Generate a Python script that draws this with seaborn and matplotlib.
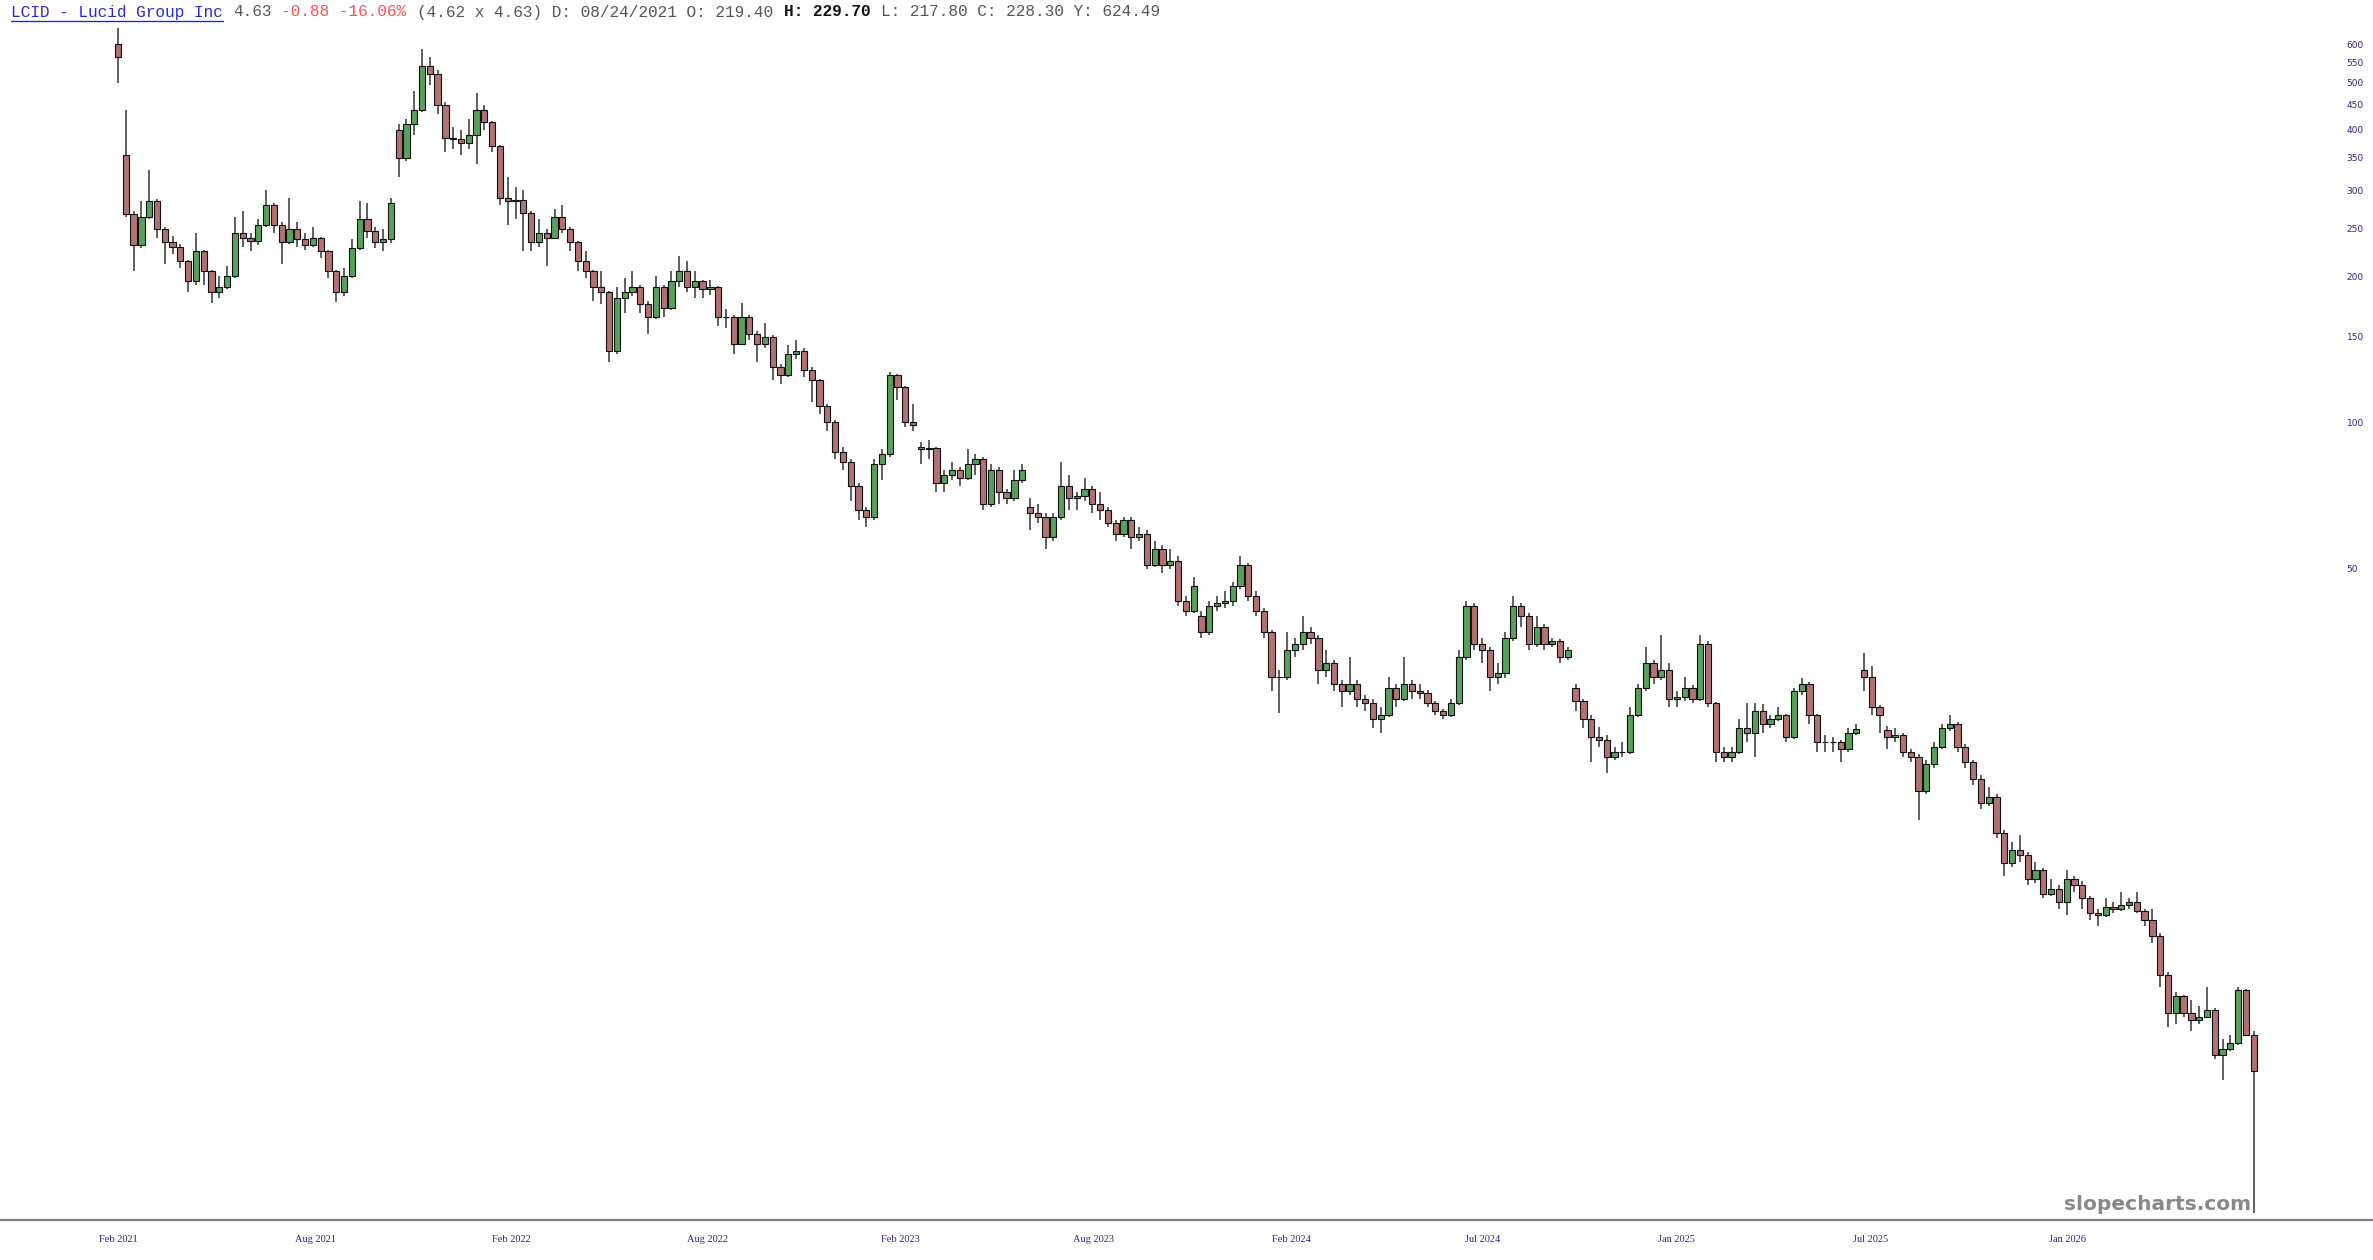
import numpy as np
import pandas as pd
import seaborn as sns
import matplotlib.pyplot as plt
from matplotlib.lines import Line2D
from matplotlib.ticker import NullLocator, NullFormatter

# Weekly OHLC (split-adjusted prices), one value per week
opens = [
    600, 355, 268, 232, 265, 285, 250, 235, 230, 215,
    195, 225, 205, 185, 190, 200, 245, 240, 236, 255,
    280, 255, 235, 250, 238, 232, 240, 225, 205, 185,
    200, 228, 262, 248, 235, 238, 400, 350, 410, 440,
    540, 520, 450, 385, 383, 375, 390, 440, 415, 370,
    290, 285, 287, 270, 235, 245, 240, 265, 250, 235,
    215, 205, 190, 185, 140, 180, 185, 190, 175, 165,
    190, 172, 195, 205, 190, 195, 188, 190, 165, 165,
    145, 165, 152, 145, 150, 130, 125, 138, 140, 128,
    122, 108, 100, 87, 83, 74, 66, 64, 82, 86,
    125, 118, 100, 89, 88, 88.5, 75, 78, 80, 77,
    82, 84, 68, 80, 72, 70, 76, 67, 65, 64,
    58, 64, 74, 70, 70.5, 73, 68, 66, 62, 59,
    63, 58, 59, 51, 55, 51, 52, 43, 41, 40,
    37, 42, 42.5, 43, 46, 51, 44, 41, 37, 30,
    30, 34, 35, 37, 36, 31, 32, 29, 28, 29,
    27, 26.5, 24.5, 25, 28.5, 27, 29, 28, 27.8, 26.5,
    25.5, 25, 26.5, 33, 42, 35, 34, 30, 30.5, 36,
    42, 40, 35, 38, 35, 35.5, 33, 28.5, 26.8, 24.5,
    22.5, 22.2, 20.5, 21, 21, 25, 28.5, 32, 30, 31,
    27, 27.3, 28.5, 27, 35, 26.5, 21, 20.5, 21, 23.5,
    23, 25.5, 24, 24.5, 25, 22.5, 28, 29, 25, 22,
    22, 22, 21.3, 23, 31, 30, 26, 23.3, 22.5, 22.8,
    21, 20.5, 17.5, 19.8, 21.5, 23.5, 24, 21.5, 20, 18.5,
    16.5, 17, 14.3, 12.4, 13.2, 12.9, 11.5, 12, 10.7, 11,
    10.3, 11.5, 11.2, 10.5, 9.8, 9.7, 10.1, 10, 10.2, 10.3,
    9.9, 9.5, 8.8, 7.3, 6.1, 6.6, 6.1, 5.9, 6.0, 6.2,
    5.0, 5.15, 5.3, 6.8, 5.51,
]
closes = [
    565, 268, 232, 265, 285, 250, 235, 230, 215, 195,
    225, 205, 185, 190, 200, 245, 240, 236, 255, 280,
    255, 235, 250, 238, 232, 240, 225, 205, 185, 200,
    228, 262, 248, 235, 238, 282, 350, 410, 440, 540,
    520, 450, 385, 383, 375, 390, 440, 415, 370, 290,
    285, 287, 270, 235, 245, 240, 265, 250, 235, 215,
    205, 190, 185, 140, 180, 185, 190, 175, 165, 190,
    172, 195, 205, 190, 195, 188, 190, 165, 165, 145,
    165, 152, 145, 150, 130, 125, 138, 140, 128, 122,
    108, 100, 87, 83, 74, 66, 64, 82, 86, 125,
    118, 100, 99, 88, 88.5, 75, 78, 80, 77, 82,
    84, 68, 80, 72, 70, 76, 80, 65, 64, 58,
    64, 74, 70, 70.5, 73, 68, 66, 62, 59, 63,
    58, 59, 51, 55, 51, 52, 43, 41, 46, 37,
    42, 42.5, 43, 46, 51, 44, 41, 37, 30, 30,
    34, 35, 37, 36, 31, 32, 29, 28, 29, 27,
    26.5, 24.5, 25, 28.5, 27, 29, 28, 27.8, 26.5, 25.5,
    25, 26.5, 33, 42, 35, 34, 30, 30.5, 36, 42,
    40, 35, 38, 35, 35.5, 33, 34, 26.8, 24.5, 22.5,
    22.2, 20.5, 21, 21, 25, 28.5, 32, 30, 31, 27,
    27.3, 28.5, 27, 35, 26.5, 21, 20.5, 21, 23.5, 23,
    25.5, 24, 24.5, 25, 22.5, 28, 29, 25, 22, 22,
    22, 21.3, 23, 23.4, 30, 26, 25, 22.5, 22.8, 21,
    20.5, 17.5, 19.8, 21.5, 23.5, 24, 21.5, 20, 18.5, 16.5,
    17, 14.3, 12.4, 13.2, 12.9, 11.5, 12, 10.7, 11, 10.3,
    11.5, 11.2, 10.5, 9.8, 9.7, 10.1, 10, 10.2, 10.3, 9.9,
    9.5, 8.8, 7.3, 6.1, 6.6, 6.1, 5.9, 6.0, 6.2, 5.0,
    5.15, 5.3, 6.8, 5.51, 4.63,
]
highs = [
    648, 440, 272, 285, 330, 288, 252, 242, 233, 216,
    245, 226, 206, 200, 210, 265, 272, 245, 262, 300,
    282, 258, 290, 258, 245, 252, 241, 226, 206, 208,
    238, 285, 283, 252, 250, 290, 410, 420, 480, 585,
    565, 530, 455, 405, 400, 420, 475, 450, 416, 372,
    320, 305, 300, 272, 262, 250, 275, 280, 252, 236,
    225, 206, 205, 186, 190, 198, 205, 192, 178, 200,
    192, 205, 220, 215, 205, 196, 196, 191, 171, 166,
    176, 166, 154, 160, 151, 132, 144, 148, 142, 130,
    123, 109, 101, 89, 84, 75, 67, 84, 88, 127,
    126, 119, 109, 91, 92, 89, 80, 83, 81, 88,
    86, 85, 82, 81, 73, 80, 82, 70, 68, 65,
    65, 83, 78, 72, 77, 74, 72, 67, 63, 64,
    64, 61, 60, 57, 56, 55, 53, 44, 48, 41,
    43, 44, 45, 47, 53, 51.5, 45, 41.5, 37.5, 31,
    37, 36, 40, 38, 36.5, 34, 32.5, 29.5, 33, 29.5,
    27.5, 27, 26, 30, 29, 33, 29.5, 29, 28.2, 26.8,
    25.8, 27, 34, 43, 42.5, 36, 34.5, 32, 37, 44,
    42.5, 40.5, 40, 38.5, 36, 35.8, 34.5, 29, 27, 25,
    23.6, 22.8, 21.5, 22, 26, 29, 34.5, 32.5, 36.5, 32,
    28, 30, 28.8, 36.5, 35.5, 26.6, 21.5, 21.5, 24.5, 26.5,
    26.5, 26.3, 25, 26, 25.2, 28.5, 29.8, 29.2, 25.2, 22.8,
    22.5, 22.2, 23.5, 24, 33.5, 31.5, 26.2, 23.8, 23.5, 23,
    21.3, 20.8, 20.2, 22, 24, 25, 24.2, 21.8, 20.2, 18.8,
    17.8, 17.2, 14.5, 13.7, 14.2, 13.1, 12.5, 12.1, 11.5, 11.2,
    12, 11.7, 11.4, 10.6, 10, 10.5, 10.3, 10.8, 10.5, 10.8,
    10, 10.0, 8.9, 7.4, 6.75, 6.65, 6.5, 6.3, 6.9, 6.25,
    5.4, 5.5, 6.9, 6.85, 5.6,
]
lows = [
    500, 265, 205, 228, 262, 240, 212, 222, 208, 185,
    192, 192, 176, 180, 188, 198, 230, 225, 232, 252,
    245, 212, 233, 230, 226, 230, 218, 198, 177, 182,
    198, 226, 240, 228, 225, 234, 320, 345, 390, 435,
    495, 430, 360, 365, 355, 365, 340, 400, 360, 280,
    255, 262, 225, 225, 230, 210, 238, 245, 225, 205,
    198, 178, 175, 133, 138, 168, 182, 168, 152, 163,
    165, 170, 190, 185, 180, 180, 183, 158, 156, 138,
    144, 148, 133, 142, 122, 120, 124, 135, 124, 110,
    104, 96, 84, 80, 69, 63, 61, 63, 76, 85,
    111, 98, 96, 82, 84, 72, 72, 76, 74, 76,
    78, 66, 67, 68, 68, 69, 75, 60, 62, 55,
    57, 63, 66, 66, 69, 65, 63, 61, 57, 58,
    55, 57, 50, 50.5, 49, 50, 42, 40, 40.5, 36,
    36.5, 41, 41.5, 42, 45.5, 43, 40, 36, 28, 25.3,
    29.5, 33, 34, 35, 29, 30, 28, 26, 27.5, 26,
    25.5, 23.5, 23, 24.8, 26, 26.8, 27, 27, 26, 25,
    24.5, 24.8, 26.2, 32.5, 34, 32, 28, 29, 29.8, 35.5,
    38, 34, 34.5, 34, 34.5, 32, 32.5, 25.5, 23.5, 20,
    21.5, 19, 20.2, 20.5, 20.8, 24.8, 28, 29, 29.5, 26,
    26, 26.8, 26.5, 26.8, 26, 20, 20, 20, 20.8, 22,
    20.5, 23, 23.5, 24.3, 22, 22.3, 27.5, 24, 21, 21,
    21, 20, 21, 22.8, 28, 25, 23, 21.3, 22, 20.5,
    20, 15.2, 17.2, 19.5, 21.3, 23.2, 21, 19.5, 18, 16,
    16.3, 14, 11.7, 12.2, 12.5, 11.2, 11.3, 10.5, 10.6, 10,
    9.7, 10.8, 10, 9.5, 9.2, 9.6, 9.8, 9.9, 10, 9.8,
    9.2, 8.5, 6.9, 5.7, 5.8, 6.0, 5.6, 5.8, 5.95, 4.9,
    4.45, 5.1, 5.25, 5.5, 2.37,
]

price_ticks = [600, 550, 500, 450, 400, 350, 300, 250, 200, 150, 100, 50]
date_labels = ['Feb 2021', 'Aug 2021', 'Feb 2022', 'Aug 2022', 'Feb 2023', 'Aug 2023',
               'Feb 2024', 'Jul 2024', 'Jan 2025', 'Jul 2025', 'Jan 2026']
label_weeks = [0, 25.3, 50.5, 75.6, 100.4, 125.2, 150.5, 175.1, 199.9, 224.9, 250.1]

df = pd.DataFrame({'open': opens, 'high': highs, 'low': lows, 'close': closes})
df['week'] = np.arange(len(df))
df['up'] = df['close'] >= df['open']

sns.set_theme(style='white')
plt.rcParams['font.family'] = ['DejaVu Sans']

W, H = 2373, 1260
fig = plt.figure(figsize=(W / 100, H / 100), dpi=100)
ax = fig.add_axes([0, 40 / H, 1, 1220 / H])
ax.set_yscale('log')

# wicks then bodies
ax.vlines(df['week'], df['low'], df['high'], color='#333333', linewidth=1.1, zorder=1)
body_lo = df[['open', 'close']].min(axis=1)
body_hi = df[['open', 'close']].max(axis=1)
colors = np.where(df['up'], '#58a05c', '#b07272')
ax.bar(df['week'], body_hi - body_lo, bottom=body_lo, width=0.8, color=colors,
       edgecolor='#111111', linewidth=0.8, zorder=2)

ax.set_xlim(-15.14, 289.3)
ax.set_ylim(2.29, 739)

sns.despine(ax=ax, left=True, right=True, top=True)
ax.spines['bottom'].set_color('#808080')
ax.spines['bottom'].set_linewidth(1.6)

navy = '#23238f'
ax.set_xticks(label_weeks, date_labels)
ax.tick_params(axis='x', length=0, pad=11, labelsize=7.5, labelcolor=navy)
for t in ax.get_xticklabels():
    t.set_fontfamily('Liberation Serif')

ax.yaxis.tick_right()
ax.set_yticks(price_ticks, [str(p) for p in price_ticks])
ax.yaxis.set_minor_locator(NullLocator())
ax.yaxis.set_minor_formatter(NullFormatter())
ax.tick_params(axis='y', length=0, pad=-19, labelsize=6.5, labelcolor=navy)
ax.grid(False)

# header line
cw = 9.67
def head(k, s, color, weight='normal'):
    fig.text((10.6 + cw * k) / W, 1 - 12 / H, s, family='Liberation Mono', fontsize=11.6,
             color=color, fontweight=weight, ha='left', va='center')

head(0, 'LCID - Lucid Group Inc', '#2a2ad0')
head(23, '4.63', '#555555')
head(28, '-0.88 -16.06%', '#ff4f4f')
head(42, '(4.62 x 4.63) D: 08/24/2021 O: 219.40', '#555555')
head(80, 'H: 229.70', '#111111', 'bold')
head(90, 'L: 217.80 C: 228.30 Y: 624.49', '#555555')
fig.add_artist(Line2D([10.6 / W, (10.6 + cw * 22) / W], [1 - 21 / H, 1 - 21 / H],
                      transform=fig.transFigure, color='#2a2ad0', linewidth=1.0))

fig.text(2251 / W, 50 / H, 'slopecharts.com', ha='right', va='baseline',
         fontsize=14.5, fontweight='bold', color='#888888')

fig.savefig('out.png', dpi=100)
